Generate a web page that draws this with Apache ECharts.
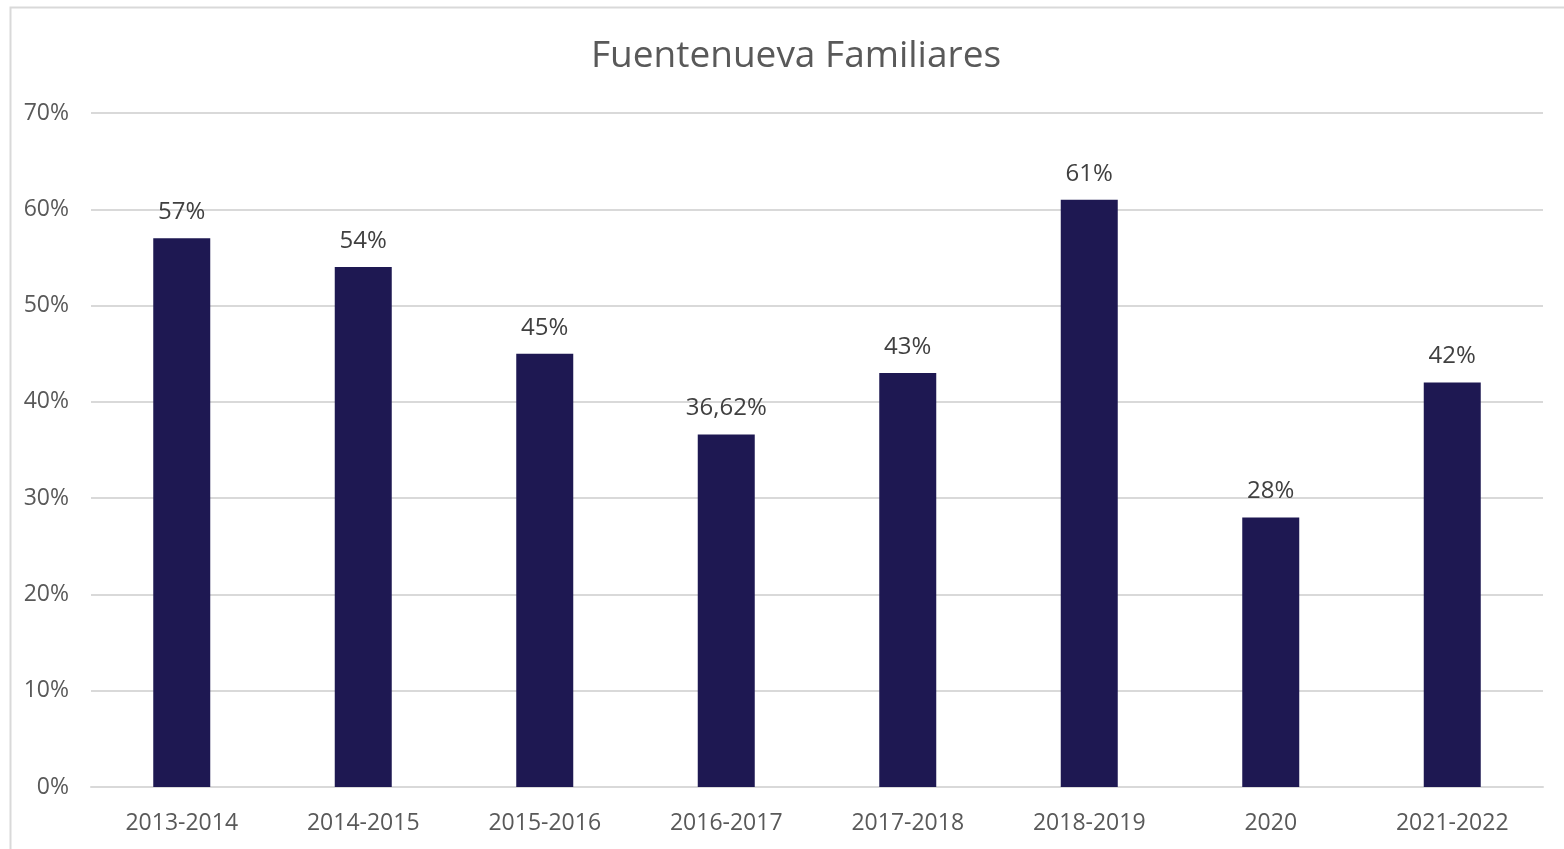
<!DOCTYPE html>
<html>
<head>
<meta charset="utf-8">
<script src="https://cdn.jsdelivr.net/npm/echarts@6/dist/echarts.min.js"></script>
<style>
  html, body { margin: 0; padding: 0; background: #fff; }
  #chart { width: 1564px; height: 849px; }
</style>
</head>
<body>
<div id="chart"></div>
<script>
const categories = ['2013-2014', '2014-2015', '2015-2016', '2016-2017', '2017-2018', '2018-2019', '2020', '2021-2022']
const values = [57, 54, 45, 36.62, 43, 61, 28, 42]

const chart = echarts.init(document.getElementById('chart'))
const font = 'Open Sans, Liberation Sans, sans-serif'

chart.setOption({
  animation: false,
  graphic: [{
    type: 'rect',
    shape: { x: 10.5, y: 7.5, width: 1600, height: 900 },
    style: { fill: 'none', stroke: '#d9d9d9', lineWidth: 2 },
    silent: true
  }],
  title: {
    text: 'Fuentenueva Familiares',
    left: 586,
    top: 33,
    textStyle: { fontFamily: font, fontSize: 37, fontWeight: 'normal', color: '#595959' }
  },
  grid: { left: 91, right: 21, top: 113, bottom: 62 },
  xAxis: {
    type: 'category',
    data: categories,
    axisLine: { lineStyle: { color: '#d9d9d9', width: 2 } },
    axisTick: { show: false },
    axisLabel: { fontFamily: font, fontSize: 23, color: '#595959', margin: 25 }
  },
  yAxis: {
    type: 'value',
    min: 0,
    max: 70,
    interval: 10,
    axisLine: { show: false },
    axisTick: { show: false },
    splitLine: { lineStyle: { color: '#d9d9d9', width: 2 } },
    axisLabel: {
      fontFamily: font, fontSize: 23, color: '#595959', margin: 22,
      formatter: v => v + '%'
    }
  },
  series: [{
    type: 'bar',
    data: values,
    barWidth: 57,
    itemStyle: { color: '#1e1852' },
    label: {
      show: true,
      position: 'top',
      distance: 14,
      fontFamily: font,
      fontSize: 24,
      color: '#404040',
      formatter: p => String(p.value).replace('.', ',') + '%'
    }
  }]
})
</script>
</body>
</html>
